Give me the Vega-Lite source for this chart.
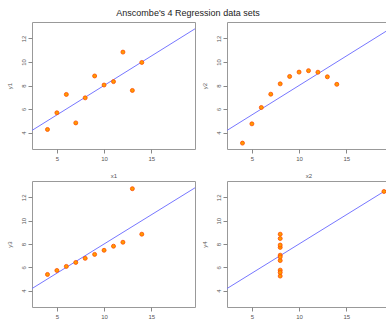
{
  "$schema": "https://vega.github.io/schema/vega-lite/v6.json",
  "autosize": {"type": "pad"},
  "padding": {"left": 5, "top": 8, "right": 0, "bottom": 0},
  "background": "white",
  "title": {"text": "Anscombe's 4 Regression data sets", "font": "Liberation Sans", "fontSize": 9, "fontWeight": "normal", "color": "#222222", "anchor": "middle", "dx": -10, "offset": 4},
  "datasets": {
    "anscombe": [
      {"x1": 10, "x2": 10, "x3": 10, "x4": 8, "y1": 8.04, "y2": 9.14, "y3": 7.46, "y4": 6.58},
      {"x1": 8, "x2": 8, "x3": 8, "x4": 8, "y1": 6.95, "y2": 8.14, "y3": 6.77, "y4": 5.76},
      {"x1": 13, "x2": 13, "x3": 13, "x4": 8, "y1": 7.58, "y2": 8.74, "y3": 12.74, "y4": 7.71},
      {"x1": 9, "x2": 9, "x3": 9, "x4": 8, "y1": 8.81, "y2": 8.77, "y3": 7.11, "y4": 8.84},
      {"x1": 11, "x2": 11, "x3": 11, "x4": 8, "y1": 8.33, "y2": 9.26, "y3": 7.81, "y4": 8.47},
      {"x1": 14, "x2": 14, "x3": 14, "x4": 8, "y1": 9.96, "y2": 8.10, "y3": 8.84, "y4": 7.04},
      {"x1": 6, "x2": 6, "x3": 6, "x4": 8, "y1": 7.24, "y2": 6.13, "y3": 6.08, "y4": 5.25},
      {"x1": 4, "x2": 4, "x3": 4, "x4": 19, "y1": 4.26, "y2": 3.10, "y3": 5.39, "y4": 12.50},
      {"x1": 12, "x2": 12, "x3": 12, "x4": 8, "y1": 10.84, "y2": 9.13, "y3": 8.15, "y4": 5.56},
      {"x1": 7, "x2": 7, "x3": 7, "x4": 8, "y1": 4.82, "y2": 7.26, "y3": 6.42, "y4": 7.91},
      {"x1": 5, "x2": 5, "x3": 5, "x4": 8, "y1": 5.68, "y2": 4.74, "y3": 5.73, "y4": 6.89}
    ]
  },
  "data": {"name": "anscombe"},
  "columns": 2,
  "spacing": 32,
  "bounds": "flush",
  "concat": [
    {"width": 163, "height": 127, "layer": [
      {"transform": [{"regression": "y1", "on": "x1", "extent": [0, 20]}],
       "mark": {"type": "line", "color": "#7777ff", "strokeWidth": 1, "clip": true},
       "encoding": {"x": {"field": "x1", "type": "quantitative", "title": "x1", "scale": {"domain": [2.36, 19.64], "nice": false, "zero": false}}, "y": {"field": "y1", "type": "quantitative", "title": "y1", "scale": {"domain": [2.6, 13.4], "nice": false, "zero": false}}}},
      {"mark": {"type": "point", "shape": "circle", "filled": true, "fill": "#ff9a00", "stroke": "#ff4a00", "strokeWidth": 0.8, "size": 16, "opacity": 1},
       "encoding": {"x": {"field": "x1", "type": "quantitative"}, "y": {"field": "y1", "type": "quantitative"}}}
    ]},
    {"width": 163, "height": 127, "layer": [
      {"transform": [{"regression": "y2", "on": "x2", "extent": [0, 20]}],
       "mark": {"type": "line", "color": "#7777ff", "strokeWidth": 1, "clip": true},
       "encoding": {"x": {"field": "x2", "type": "quantitative", "title": "x2", "scale": {"domain": [2.36, 19.64], "nice": false, "zero": false}}, "y": {"field": "y2", "type": "quantitative", "title": "y2", "scale": {"domain": [2.6, 13.4], "nice": false, "zero": false}}}},
      {"mark": {"type": "point", "shape": "circle", "filled": true, "fill": "#ff9a00", "stroke": "#ff4a00", "strokeWidth": 0.8, "size": 16, "opacity": 1},
       "encoding": {"x": {"field": "x2", "type": "quantitative"}, "y": {"field": "y2", "type": "quantitative"}}}
    ]},
    {"width": 163, "height": 126, "layer": [
      {"transform": [{"regression": "y3", "on": "x3", "extent": [0, 20]}],
       "mark": {"type": "line", "color": "#7777ff", "strokeWidth": 1, "clip": true},
       "encoding": {"x": {"field": "x3", "type": "quantitative", "title": "x3", "scale": {"domain": [2.36, 19.64], "nice": false, "zero": false}}, "y": {"field": "y3", "type": "quantitative", "title": "y3", "scale": {"domain": [2.6, 13.4], "nice": false, "zero": false}}}},
      {"mark": {"type": "point", "shape": "circle", "filled": true, "fill": "#ff9a00", "stroke": "#ff4a00", "strokeWidth": 0.8, "size": 16, "opacity": 1},
       "encoding": {"x": {"field": "x3", "type": "quantitative"}, "y": {"field": "y3", "type": "quantitative"}}}
    ]},
    {"width": 163, "height": 126, "layer": [
      {"transform": [{"regression": "y4", "on": "x4", "extent": [0, 20]}],
       "mark": {"type": "line", "color": "#7777ff", "strokeWidth": 1, "clip": true},
       "encoding": {"x": {"field": "x4", "type": "quantitative", "title": "x4", "scale": {"domain": [2.36, 19.64], "nice": false, "zero": false}}, "y": {"field": "y4", "type": "quantitative", "title": "y4", "scale": {"domain": [2.6, 13.4], "nice": false, "zero": false}}}},
      {"mark": {"type": "point", "shape": "circle", "filled": true, "fill": "#ff9a00", "stroke": "#ff4a00", "strokeWidth": 0.8, "size": 16, "opacity": 1},
       "encoding": {"x": {"field": "x4", "type": "quantitative"}, "y": {"field": "y4", "type": "quantitative"}}}
    ]}
  ],
  "config": {
    "font": "Liberation Sans",
    "view": {"stroke": "#999999", "strokeWidth": 1},
    "axis": {"grid": false, "domain": false, "tickColor": "#888888", "tickSize": 4, "labelFont": "Liberation Sans", "labelFontSize": 6, "labelColor": "#555555", "titleFont": "Liberation Sans", "titleFontSize": 6, "titleFontWeight": "normal", "titleColor": "#555555"},
    "axisX": {"values": [5, 10, 15], "labelPadding": 2, "titlePadding": 11},
    "axisY": {"values": [4, 6, 8, 10, 12], "labelAngle": 270, "labelAlign": "center", "labelBaseline": "bottom", "labelPadding": 2, "titlePadding": 8}
  }
}
